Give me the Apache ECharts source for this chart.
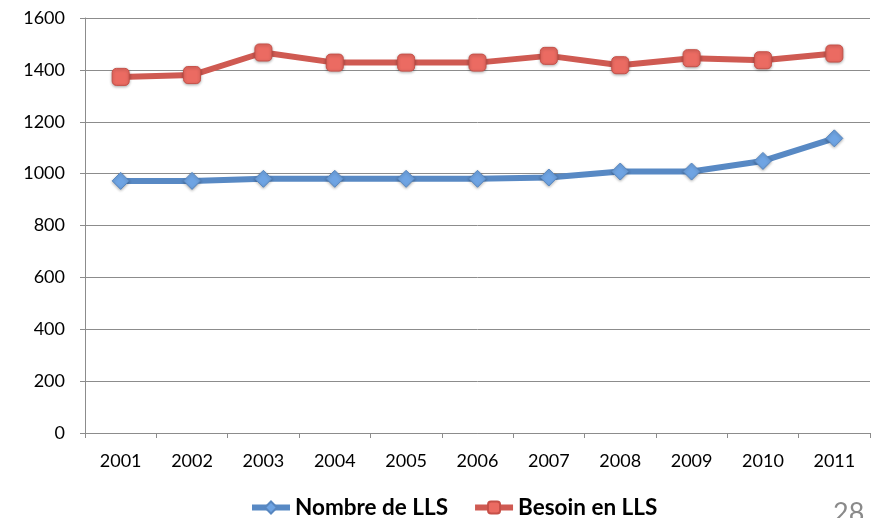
<!DOCTYPE html>
<html>
<head>
<meta charset="utf-8">
<script src="https://cdn.jsdelivr.net/npm/echarts@6/dist/echarts.min.js"></script>
<style>
  html, body { margin: 0; padding: 0; background: #fff; }
  #chart { width: 875px; height: 518px; }
</style>
</head>
<body>
<div id="chart"></div>
<script>
const years = ['2001', '2002', '2003', '2004', '2005', '2006', '2007', '2008', '2009', '2010', '2011'];
const nombreLLS = [972, 972, 980, 980, 980, 980, 985, 1008, 1008, 1049, 1136];
const besoinLLS = [1373, 1380, 1467, 1428, 1428, 1428, 1454, 1418, 1445, 1437, 1463];
const yTicks = { min: 0, max: 1600, interval: 200 };

const font = 'Lato, "Open Sans", sans-serif';
const chart = echarts.init(document.getElementById('chart'));

chart.setOption({
  animation: false,
  backgroundColor: '#ffffff',
  grid: { left: 85, right: 5, top: 18, bottom: 85 },
  legend: {
    top: 496,
    left: 249,
    padding: 0,
    itemGap: 24,
    itemWidth: 38,
    itemHeight: 15,
    lineStyle: { width: 6 },
    textStyle: { fontFamily: font, fontSize: 22.5, fontWeight: 'bold', color: '#000' },
    data: ['Nombre de LLS', 'Besoin en LLS']
  },
  xAxis: {
    type: 'category',
    data: years,
    boundaryGap: true,
    axisLine: { lineStyle: { color: '#8c8c8c', width: 1 } },
    axisTick: { show: true, length: 5, lineStyle: { color: '#8c8c8c' } },
    axisLabel: { fontFamily: font, fontSize: 18, color: '#000', margin: 19 }
  },
  yAxis: {
    type: 'value',
    min: yTicks.min,
    max: yTicks.max,
    interval: yTicks.interval,
    axisLine: { show: true, lineStyle: { color: '#8c8c8c', width: 1 } },
    axisTick: { show: true, length: 5, lineStyle: { color: '#8c8c8c' } },
    axisLabel: { fontFamily: font, fontSize: 18, color: '#000', margin: 20,
                 formatter: v => String(v) },
    splitLine: { lineStyle: { color: '#8c8c8c', width: 1 } }
  },
  series: [
    {
      name: 'Nombre de LLS',
      type: 'line',
      data: nombreLLS,
      symbol: 'diamond',
      symbolSize: 17,
      lineStyle: { color: '#5889c4', width: 6 },
      itemStyle: { color: '#6fa4e3', borderColor: '#5887c0', borderWidth: 1,
                   shadowColor: 'rgba(0,0,0,0.3)', shadowBlur: 3, shadowOffsetY: 1 }
    },
    {
      name: 'Besoin en LLS',
      type: 'line',
      data: besoinLLS,
      symbol: 'roundRect',
      symbolSize: 17,
      lineStyle: { color: '#cf5a52', width: 6 },
      itemStyle: { color: '#eb6b62', borderColor: '#c65048', borderWidth: 1,
                   shadowColor: 'rgba(0,0,0,0.3)', shadowBlur: 3, shadowOffsetY: 1 }
    }
  ],
  graphic: [
    {
      type: 'text',
      left: 833,
      top: 500,
      style: { text: '28', fontFamily: font, fontSize: 27, fill: '#8a8a8a' }
    }
  ]
});
</script>
</body>
</html>
